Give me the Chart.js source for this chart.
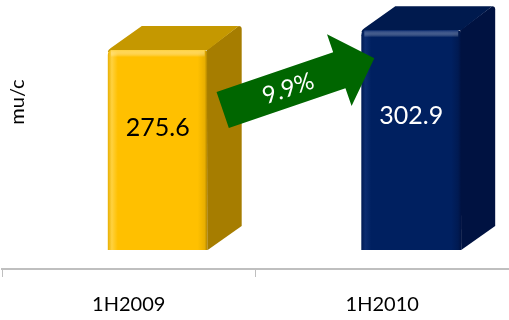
<!DOCTYPE html>
<html>
<head>
<meta charset="utf-8">
<script src="https://cdn.jsdelivr.net/npm/chart.js@4"></script>
<style>
  html, body { margin: 0; padding: 0; background: #fff; }
  #wrap { width: 509px; height: 320px; }
</style>
</head>
<body>
<div id="wrap"><canvas id="growthChart"></canvas></div>
<script>
// data
const periods = ['1H2009', '1H2010'];
const values = [275.6, 302.9];
const unitLabel = 'mu/c';

// bar face colours
const frontColors = ['#FFC000', '#002060'];
const frontLight = ['#FFD240', '#0C2C70'];
const frontDark = ['#E9AF00', '#001A52'];
const sideColors = ['#A67D00', '#001241'];
const topColors = ['#C59800', '#001A4E'];
const labelColors = ['#000000', '#ffffff'];

const FONT = 'Lato, "Open Sans", sans-serif';
const SHIFT = 29;   // perspective offset of the front face
const DX = 34, DY = 24;

const bars3d = {
  id: 'bars3d',
  afterDatasetsDraw(chart) {
    const ctx = chart.ctx;
    const meta = chart.getDatasetMeta(0);
    const faces = [];
    meta.data.forEach((bar, i) => {
      const { x, y, base, width } = bar.getProps(['x', 'y', 'base', 'width'], true);
      const l = x - width / 2 + SHIFT, r = x + width / 2 + SHIFT;
      faces.push({ l, r, y, base });
      ctx.save();
      // side
      ctx.fillStyle = sideColors[i];
      ctx.beginPath();
      ctx.moveTo(r - 1, y);
      ctx.lineTo(r + DX - 3, y - DY);
      ctx.quadraticCurveTo(r + DX, y - DY, r + DX, y - DY + 3);
      ctx.lineTo(r + DX, base - DY);
      ctx.lineTo(r, base);
      ctx.closePath();
      ctx.fill();
      // top
      ctx.fillStyle = topColors[i];
      ctx.beginPath();
      ctx.moveTo(l, y + 2);
      ctx.quadraticCurveTo(l, y, l + 3, y - 2);
      ctx.lineTo(l + DX, y - DY);
      ctx.lineTo(r + DX - 3, y - DY);
      ctx.lineTo(r, y);
      ctx.closePath();
      ctx.fill();
      // front
      const g = ctx.createLinearGradient(l, 0, r, 0);
      g.addColorStop(0, frontDark[i]);
      g.addColorStop(0.04, frontLight[i]);
      g.addColorStop(0.1, frontColors[i]);
      g.addColorStop(0.9, frontColors[i]);
      g.addColorStop(0.97, frontDark[i]);
      g.addColorStop(1, sideColors[i]);
      ctx.fillStyle = g;
      ctx.beginPath();
      ctx.moveTo(l, base);
      ctx.lineTo(l, y + 5);
      ctx.quadraticCurveTo(l, y, l + 5, y);
      ctx.lineTo(r - 4, y);
      ctx.quadraticCurveTo(r, y, r, y + 4);
      ctx.lineTo(r, base);
      ctx.closePath();
      ctx.fill();
      // top edge highlight
      const h = ctx.createLinearGradient(0, y, 0, y + 7);
      h.addColorStop(0, frontLight[i]);
      h.addColorStop(1, 'rgba(255,255,255,0)');
      ctx.fillStyle = h;
      ctx.fillRect(l + 3, y, r - l - 6, 7);
      // value label
      ctx.fillStyle = labelColors[i];
      ctx.font = '25px ' + FONT;
      ctx.textAlign = 'center';
      ctx.textBaseline = 'middle';
      ctx.fillText(values[i].toFixed(1), (l + r) / 2, base + 0.61 * (y - base));
      ctx.restore();
    });

    // growth arrow
    if (faces.length === 2) {
      const a = faces[0], b = faces[1];
      const sx = a.r + 15, sy = a.y + 60;
      const ex = b.l + 13, ey = b.y + 28;
      const len = Math.hypot(ex - sx, ey - sy);
      const ang = Math.atan2(ey - sy, ex - sx);
      const hw = 19, headW = 38, headL = 37;
      ctx.save();
      ctx.translate(sx, sy);
      ctx.rotate(ang);
      ctx.fillStyle = '#006600';
      ctx.beginPath();
      ctx.moveTo(0, -hw);
      ctx.lineTo(len - headL, -hw);
      ctx.lineTo(len - headL, -headW);
      ctx.lineTo(len, 0);
      ctx.lineTo(len - headL, headW);
      ctx.lineTo(len - headL, hw);
      ctx.lineTo(0, hw);
      ctx.closePath();
      ctx.fill();
      const growth = (values[1] / values[0] - 1) * 100;
      ctx.fillStyle = '#ffffff';
      ctx.font = '24px ' + FONT;
      ctx.textAlign = 'center';
      ctx.textBaseline = 'middle';
      ctx.fillText(growth.toFixed(1) + '%', 69, 1);
      ctx.restore();
    }

    // y axis unit
    ctx.save();
    ctx.translate(18, 102);
    ctx.rotate(-Math.PI / 2);
    ctx.fillStyle = '#000';
    ctx.font = '20px ' + FONT;
    ctx.textAlign = 'center';
    ctx.textBaseline = 'middle';
    ctx.fillText(unitLabel, 0, 0);
    ctx.restore();
  }
};

const ctx = document.getElementById('growthChart').getContext('2d');
const growthChart = new Chart(ctx, {
  type: 'bar',
  data: {
    labels: periods,
    datasets: [{
      data: values,
      backgroundColor: 'rgba(0,0,0,0)',
      borderWidth: 0,
      categoryPercentage: 1,
      barPercentage: 0.394
    }]
  },
  options: {
    responsive: true,
    maintainAspectRatio: false,
    animation: false,
    layout: { padding: { left: 2, right: 0, top: 0, bottom: 3 } },
    plugins: {
      legend: { display: false },
      tooltip: { enabled: false }
    },
    scales: {
      y: {
        display: false,
        min: -26.2,
        max: 344.5
      },
      x: {
        offset: true,
        afterFit(scale) { scale.height = 48; },
        grid: {
          offset: true,
          drawOnChartArea: false,
          drawTicks: true,
          tickLength: 8,
          color: '#BFBFBF'
        },
        border: { color: '#BFBFBF', width: 2 },
        ticks: {
          color: '#000',
          font: { family: FONT, size: 20 },
          padding: 16
        }
      }
    }
  },
  plugins: [bars3d]
});
</script>
</body>
</html>
